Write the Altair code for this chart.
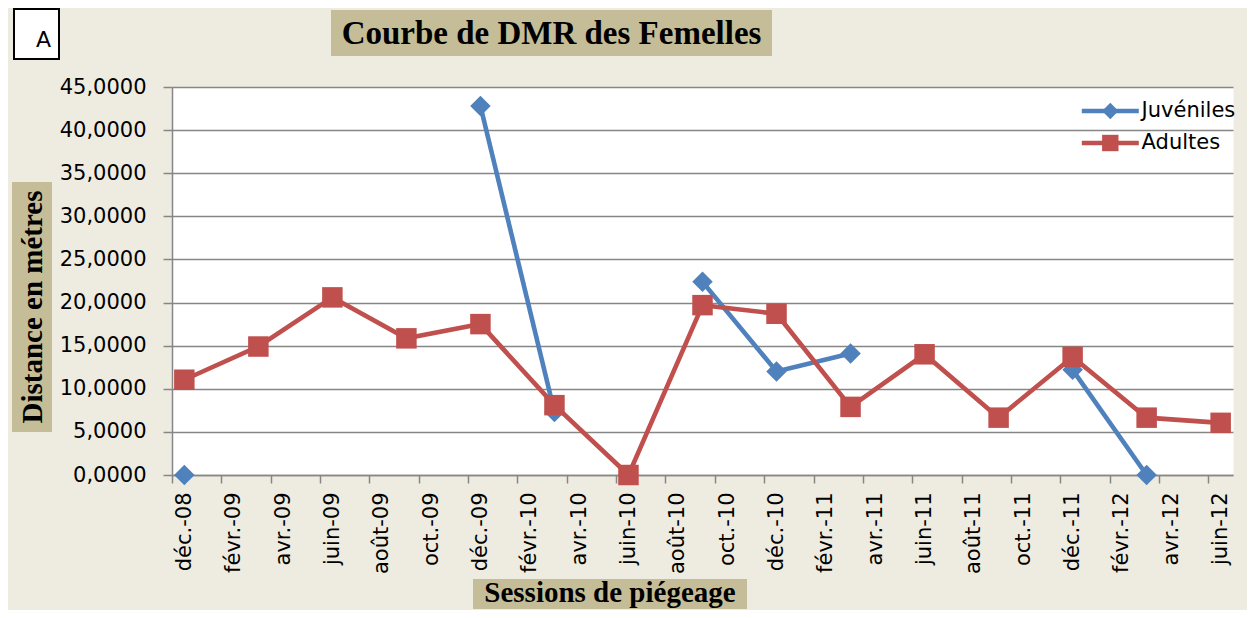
import altair as alt
import pandas as pd

# ---- data ----
session_dates = ["2008-12", "2009-03", "2009-06", "2009-09", "2009-12", "2010-03",
                 "2010-06", "2010-09", "2010-12", "2011-03", "2011-06", "2011-09",
                 "2011-12", "2012-03", "2012-06"]
juveniles = [0.0, None, None, None, 42.8, 7.3, None, 22.4, 12.0, 14.1, None, None,
             12.2, 0.0, None]
adultes = [11.05, 14.9, 20.6, 15.85, 17.5, 8.1, 0.0, 19.7, 18.7, 7.9, 14.0, 6.65,
           13.7, 6.65, 6.05]
series_names = ["Juvéniles", "Adultes"]
series_colors = ["#4F81BD", "#C0504D"]
series_shapes = ["diamond", "square"]
tick_labels = ["déc.-08", "févr.-09", "avr.-09", "juin-09", "août-09", "oct.-09",
               "déc.-09", "févr.-10", "avr.-10", "juin-10", "août-10", "oct.-10",
               "déc.-10", "févr.-11", "avr.-11", "juin-11", "août-11", "oct.-11",
               "déc.-11", "févr.-12", "avr.-12", "juin-12"]
y_ticks = [0, 5, 10, 15, 20, 25, 30, 35, 40, 45]

# ---- build table ----
def month_index(s):
    y, m = s.split("-")
    return (int(y) - 2008) * 12 + int(m) - 12

marker_names = ["m-" + n for n in series_names]  # separate domain for the marker legend
rows = []
for name, mname, vals in zip(series_names, marker_names, [juveniles, adultes]):
    seg = 0
    for d, v in zip(session_dates, vals):
        if v is None:
            seg += 1
            continue
        rows.append({"serie": name, "serie_m": mname, "m": month_index(d), "v": v,
                     "seg": f"{name}-{seg}"})
df = pd.DataFrame(rows)

n_months = 43
W, H = 1061, 388
slot = W / n_months
tick_vals = [2 * i for i in range(len(tick_labels))]
lab_map = "{" + ",".join(f'"{v}":"{l}"' for v, l in zip(tick_vals, tick_labels)) + "}"

SANS = "DejaVu Sans"
SERIF = "Liberation Serif"
GRAY = "#868686"
KHAKI = "#C4BD97"

x = alt.X("m:Q", scale=alt.Scale(domain=[-0.5, n_months - 0.5], nice=False, zero=False),
          axis=alt.Axis(values=tick_vals, labelExpr=f"{lab_map}[''+datum.value]",
                        tickOffset=-slot / 2, labelOffset=slot / 2, labelAngle=270,
                        title=None, grid=False, domainColor=GRAY, domainWidth=1.5,
                        tickColor=GRAY, tickWidth=1.5, tickSize=8, labelPadding=9,
                        labelFont=SANS, labelFontSize=21, labelColor="black",
                        labelOverlap=False, labelFlush=False))
y = alt.Y("v:Q", scale=alt.Scale(domain=[0, 45], nice=False),
          axis=alt.Axis(values=y_ticks,
                        labelExpr="replace(format(datum.value, '.4f'), '.', ',')",
                        title=None, grid=True, gridColor=GRAY, gridWidth=1.4,
                        domainColor=GRAY, domainWidth=1.5, tickColor=GRAY,
                        tickWidth=1.5, tickSize=9, labelPadding=17,
                        labelFont=SANS, labelFontSize=21, labelColor="black",
                        labelOverlap=False, labelFlush=False))

LEG_LINE = 57.0
LEG_MARK = 16.4
K = LEG_LINE / LEG_MARK
CX = 936  # legend symbol centre (relative to plot)
LEG_Y = 13.5
legend_line = alt.Legend(
    title=None, orient="none", legendX=CX - LEG_MARK / 2, legendY=LEG_Y, padding=0,
    symbolSize=LEG_MARK ** 2, symbolType=f"M-{K:.3f},0H{K:.3f}", symbolStrokeWidth=4.5,
    labelFont=SANS, labelFontSize=21, labelColor="black", labelOffset=20.8,
    rowPadding=10, zindex=1,
)
legend_mark = alt.Legend(
    title=None, orient="none", legendX=CX - LEG_MARK / 2, legendY=LEG_Y, padding=0,
    symbolSize=LEG_MARK ** 2, symbolStrokeWidth=0, symbolOpacity=1,
    labelFont=SANS, labelFontSize=21, labelColor="black", labelOpacity=0,
    labelOffset=20.8, rowPadding=10, zindex=2,
)

base = alt.Chart(df)
lines = base.mark_line(strokeWidth=4.6).encode(
    x=x, y=y,
    color=alt.Color("serie:N", scale=alt.Scale(domain=series_names, range=series_colors),
                    legend=legend_line),
    detail="seg:N", order="m:Q")
points = base.mark_point(filled=True, opacity=1, size=420, strokeWidth=0).encode(
    x=x, y=y,
    fill=alt.Fill("serie_m:N", scale=alt.Scale(domain=marker_names, range=series_colors),
                  legend=legend_mark),
    shape=alt.Shape("serie_m:N", scale=alt.Scale(domain=marker_names, range=series_shapes),
                    legend=legend_mark),
)

ann = alt.Chart(alt.Data(values=[{"k": 1}]))
box_a = ann.mark_rect(fill="white", stroke="black", strokeWidth=2).encode(
    x=alt.value(-158), x2=alt.value(-113), y=alt.value(-78), y2=alt.value(-28))
txt_a = ann.mark_text(text="A", font=SANS, fontSize=22, align="center",
                      baseline="middle").encode(x=alt.value(-128.5), y=alt.value(-47))
box_t = ann.mark_rect(fill=KHAKI).encode(
    x=alt.value(159), x2=alt.value(600), y=alt.value(-77), y2=alt.value(-31))
txt_t = ann.mark_text(text="Courbe de DMR des Femelles", font=SERIF, fontSize=33,
                      fontWeight="bold", align="center", baseline="middle").encode(
    x=alt.value(379.5), y=alt.value(-53))
box_y = ann.mark_rect(fill=KHAKI).encode(
    x=alt.value(-160), x2=alt.value(-120), y=alt.value(95), y2=alt.value(345))
txt_y = ann.mark_text(text="Distance en métres", font=SERIF, fontSize=29,
                      fontWeight="bold", align="center", baseline="middle",
                      angle=270).encode(x=alt.value(-139), y=alt.value(220))
box_x = ann.mark_rect(fill=KHAKI).encode(
    x=alt.value(301), x2=alt.value(575), y=alt.value(492), y2=alt.value(522))
txt_x = ann.mark_text(text="Sessions de piégeage", font=SERIF, fontSize=29,
                      fontWeight="bold", align="center", baseline="middle").encode(
    x=alt.value(438), y=alt.value(506))

chart = alt.layer(lines, points, box_a, txt_a, box_t, txt_t, box_y, txt_y, box_x, txt_x).properties(
    width=W, height=H,
    autosize=alt.AutoSizeParams(type="none"),
    padding={"left": 164, "top": 79, "right": 14, "bottom": 135},
    background="#EEECE1",
).configure_view(fill="white", stroke="transparent")

chart.save("out.html", embed_options={"renderer": "svg", "actions": False})
